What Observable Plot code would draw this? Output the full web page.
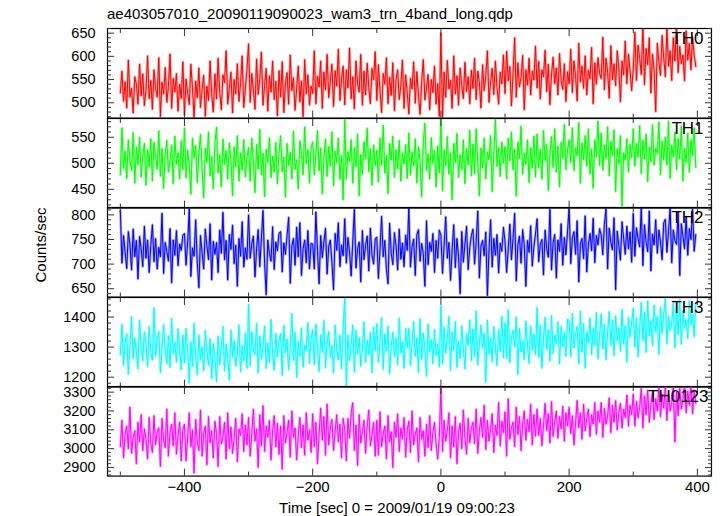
<!DOCTYPE html>
<html><head><meta charset="utf-8">
<script src="https://cdn.jsdelivr.net/npm/d3@7"></script>
<script src="https://cdn.jsdelivr.net/npm/@observablehq/plot@0.6"></script>
<style>
body{margin:0;background:#fff;}
#chart{position:relative;width:724px;height:516px;font-family:"Liberation Sans",Arial,sans-serif;color:#000;overflow:hidden;}
.panel{position:absolute;left:0;}
.panel svg{overflow:visible;}
#title{position:absolute;left:107px;top:5px;font-size:15px;white-space:nowrap;}
#ylab{position:absolute;left:40px;top:245px;transform:translate(-50%,-50%) rotate(-90deg);font-size:15px;white-space:nowrap;}
#xlab{position:absolute;left:397px;top:507px;transform:translate(-50%,-50%);font-size:15px;white-space:nowrap;}
</style></head>
<body>
<div id="chart">
  <div id="title">ae403057010_20090119090023_wam3_trn_4band_long.qdp</div>
  <div id="ylab">Counts/sec</div>
  <div id="xlab">Time [sec] 0 = 2009/01/19 09:00:23</div>
</div>
<script>
// time bins: first bin start and bin width (sec)
const tStart = -500;
const tStep = 2.5;
const xTicksLabelled = [-400, -200, 0, 200, 400];
const xTicksMinor = [-500, -300, -100, 100, 300];

const bands = ["TH0", "TH1", "TH2", "TH3", "TH0123"];
const colors = ["#ff0000", "#00ff00", "#0000ff", "#00ffff", "#ff00ff"];

const th0 = [
521,568,503,545,489,592,512,531,478,556,540,497,583,515,562,494,527,601,509,548,
486,571,530,512,597,470,544,519,576,501,535,605,488,552,523,563,482,540,509,588,
474,551,520,496,583,532,468,547,511,575,490,528,559,471,536,505,590,517,480,562,
508,596,522,485,560,543,612,497,531,566,478,550,519,584,503,541,601,490,529,572,
627,501,563,528,486,594,518,552,609,495,537,574,482,558,523,590,507,546,472,569,
512,588,479,541,565,497,603,526,554,484,531,579,502,547,470,593,519,560,495,536,
520,612,498,557,534,590,488,566,528,604,511,547,583,492,569,536,615,505,552,579,
496,571,532,618,509,556,487,590,541,523,604,495,568,517,585,533,498,574,549,610,
505,582,527,479,563,540,597,498,555,516,586,483,549,571,507,536,592,488,560,521,
476,553,530,588,499,567,514,475,546,593,506,532,561,485,550,522,579,497,541,471,
650,468,566,512,591,530,549,488,601,519,558,495,575,537,509,587,524,556,498,570,
531,596,507,568,543,489,582,526,559,612,501,545,574,518,590,533,497,566,541,603,
520,611,547,578,493,563,640,512,586,534,555,602,485,571,538,596,517,568,549,622,
532,589,508,571,556,613,524,583,496,560,598,541,575,517,606,548,529,584,503,567,
541,615,522,590,558,504,628,545,579,531,601,517,570,552,619,498,586,540,597,563,
552,641,528,596,566,510,623,549,584,537,612,575,502,590,560,633,541,605,571,526,
573,652,548,624,596,561,668,539,617,582,640,521,605,570,481,628,588,559,645,597,
556,662,579,612,548,640,590,672,565,621,584,603,547,655,592,628,571,641,603,578];

const th1 = [
478,568,490,523,471,545,505,486,559,462,531,497,550,474,515,538,458,526,493,547,
466,540,511,489,562,475,528,452,517,544,483,506,535,461,552,498,520,470,543,488,
568,472,525,496,441,548,510,534,463,519,555,487,434,529,502,560,476,513,451,538,
569,482,517,455,546,498,524,470,539,508,438,531,493,553,466,520,487,545,474,512,
530,466,548,501,444,536,489,565,478,519,436,527,502,549,473,514,483,540,461,522,
553,484,512,435,538,496,521,470,562,489,507,451,543,517,478,570,499,526,462,531,
541,478,518,563,486,529,441,510,546,475,532,494,560,457,523,501,548,469,515,430,
584,470,522,503,545,462,530,493,556,438,517,479,541,508,567,484,528,458,535,496,
525,464,548,497,573,481,515,442,538,506,552,473,526,489,544,466,519,499,535,471,
558,478,521,495,547,462,531,504,436,540,577,486,518,470,549,500,525,455,533,482,
584,447,526,495,551,479,520,430,538,502,557,473,516,488,545,461,529,497,563,476,
537,480,566,502,438,529,491,548,470,522,507,553,446,519,584,494,530,475,541,500,
532,470,548,505,560,488,527,437,541,509,571,479,520,498,545,463,530,491,552,474,
556,492,527,470,563,505,536,448,519,551,492,566,483,533,455,540,510,574,488,525,
545,501,568,486,530,514,578,462,539,507,553,495,566,480,527,452,545,512,581,496,
558,487,535,509,570,476,542,515,564,446,528,499,553,418,520,506,547,483,536,511,
566,495,538,512,572,480,544,508,556,465,531,503,574,497,529,519,579,478,542,506,
550,497,581,471,535,512,560,488,547,508,571,466,529,501,558,483,545,514,568,492];

const th2 = [
809,702,758,723,691,766,740,688,771,715,748,670,756,731,695,777,712,749,683,738,
780,705,752,690,734,715,803,681,744,726,706,772,662,749,718,768,697,741,728,759,
762,698,745,812,675,733,716,790,704,652,758,724,690,771,737,709,782,668,746,720,
744,683,769,722,805,709,748,668,760,730,779,701,738,655,752,716,786,694,733,710,
800,712,741,757,674,731,770,695,753,809,702,638,749,721,706,776,689,745,727,763,
766,684,743,720,758,795,661,737,752,698,775,715,784,677,731,749,703,768,690,742,
741,690,806,726,660,758,713,745,773,680,736,749,704,648,762,728,784,695,739,717,
792,702,754,725,676,745,811,692,731,745,664,768,709,738,757,686,773,719,700,751,
755,671,730,797,715,748,689,660,783,722,699,764,737,688,771,710,743,695,759,728,
813,694,735,751,677,760,770,706,742,721,655,788,699,744,726,762,683,748,712,769,
759,681,738,796,712,744,667,729,780,693,752,716,640,766,704,741,777,689,733,758,
771,700,745,808,672,737,748,717,765,636,729,790,694,752,718,760,682,743,726,775,
746,683,731,781,709,752,803,666,739,757,702,770,739,655,748,724,778,696,735,761,
792,705,740,750,678,769,731,714,811,688,744,760,672,749,726,782,698,754,719,767,
815,701,752,766,720,788,664,741,752,711,798,684,740,762,727,793,703,758,739,772,
759,719,781,812,690,773,744,729,794,648,767,738,708,786,752,720,777,731,765,704,
803,716,774,752,735,815,697,780,744,725,808,686,761,739,790,722,769,745,709,784,
791,724,766,814,703,769,747,740,806,677,782,757,731,796,718,772,750,812,726,760];

const th3 = [
1275,1375,1240,1318,1344,1210,1302,1402,1262,1330,1286,1228,1390,1297,1255,1351,1310,1236,1368,1283,
1256,1431,1270,1322,1352,1215,1298,1375,1290,1245,1338,1232,1396,1279,1316,1250,1361,1293,1225,1340,
1248,1362,1291,1181,1318,1236,1379,1270,1208,1340,1259,1301,1222,1355,1284,1240,1327,1196,1311,1263,
1185,1337,1242,1298,1368,1221,1309,1265,1190,1356,1266,1322,1237,1281,1374,1218,1305,1254,1346,1230,
1442,1238,1351,1290,1275,1379,1214,1338,1260,1302,1370,1229,1314,1248,1392,1276,1223,1345,1267,1320,
1345,1206,1372,1281,1326,1224,1298,1412,1255,1349,1200,1318,1270,1364,1233,1307,1288,1381,1246,1329,
1358,1242,1377,1296,1219,1341,1283,1388,1231,1317,1352,1266,1305,1214,1373,1290,1257,1339,1228,1361,
1465,1170,1340,1255,1308,1373,1217,1356,1277,1331,1236,1294,1384,1250,1322,1276,1349,1215,1367,1289,
1378,1251,1320,1398,1226,1344,1287,1369,1212,1304,1350,1268,1331,1242,1396,1281,1318,1230,1362,1299,
1362,1238,1311,1385,1270,1331,1216,1394,1259,1347,1296,1203,1376,1284,1325,1245,1358,1272,1310,1234,
1437,1245,1366,1281,1329,1402,1222,1350,1290,1385,1233,1318,1262,1371,1296,1227,1345,1308,1390,1256,
1359,1268,1420,1241,1312,1373,1296,1346,1183,1390,1277,1330,1252,1368,1300,1239,1357,1285,1402,1264,
1381,1262,1424,1248,1335,1356,1301,1400,1209,1362,1284,1322,1258,1387,1305,1246,1370,1291,1343,1275,
1431,1266,1374,1230,1329,1399,1292,1357,1253,1405,1279,1340,1311,1384,1244,1368,1302,1349,1270,1393,
1388,1268,1412,1297,1345,1369,1244,1420,1283,1378,1230,1351,1314,1396,1275,1362,1306,1415,1261,1338,
1410,1295,1376,1258,1348,1418,1306,1389,1272,1404,1320,1363,1286,1425,1310,1371,1251,1398,1333,1380,
1430,1300,1395,1268,1362,1448,1322,1415,1283,1454,1337,1388,1305,1440,1351,1402,1276,1432,1346,1411,
1461,1312,1402,1355,1378,1446,1298,1431,1342,1458,1310,1420,1365,1392,1329,1452,1374,1408,1335,1444];

const th0123 = [
3010,3150,2950,3080,3120,3000,3220,2975,3060,3095,2920,3140,3035,3180,2990,3105,3050,2945,3165,3025,
2980,3175,3020,3090,3110,2905,3160,3045,3005,3210,2960,3085,3130,3015,3190,2970,3070,3140,2935,3100,
3130,2935,3065,3190,3010,3100,2870,3155,3040,2990,3205,2960,3085,3120,2915,3170,3030,3095,2950,3145,
3080,2905,3170,3025,3060,3140,2945,3190,3000,3115,2975,3055,3160,2930,3105,3070,3185,2985,3125,3020,
3165,2960,3080,3210,3040,3105,2900,3180,3015,3228,2985,3120,3060,3150,2940,3095,3175,3010,3135,2970,
3120,2890,3175,3030,3085,3150,2955,3200,3060,3110,2940,3070,3165,3005,3125,2965,3190,3045,3100,2980,
3185,3010,3140,2920,3075,3215,3045,3170,2965,3237,3020,3110,3155,2990,3090,3180,3035,3130,2950,3160,
3100,2935,3160,3055,3190,3244,2990,3125,2910,3180,3030,3090,3150,2975,3120,3205,3015,3070,3140,2960,
3150,2965,3195,3010,3080,3120,2945,3175,3035,3090,2900,3140,3060,3185,2985,3110,3050,3165,2955,3100,
3145,2980,3200,3020,3075,3110,2930,3165,3050,3095,2960,3130,3005,3175,2990,3085,3140,3025,2945,3060,
3326,2985,3150,3040,3095,3190,2950,3120,3010,3170,2920,3085,3135,3000,3205,3055,2970,3160,3030,3110,
3140,3025,3210,2975,3095,3165,3060,3230,2995,3150,3040,3105,3185,2980,3125,3070,3245,3015,3145,3085,
3195,2960,3265,3050,3110,3140,3010,3220,3075,3170,2990,3130,3200,3045,3155,3090,3235,3020,3180,3065,
3210,3070,3160,3015,3125,3240,3095,3185,3030,3250,3065,3145,3200,3055,3170,3105,3225,3040,3190,3120,
3220,3080,3175,3020,3135,3256,3110,3190,3050,3235,3095,3160,3210,3065,3180,3130,3245,3075,3200,3140,
3245,3060,3215,3130,3175,3270,3085,3230,3140,3255,3100,3195,3240,3110,3210,3165,3285,3120,3230,3180,
3290,3120,3250,3165,3220,3320,3110,3280,3180,3310,3140,3235,3300,3155,3265,3200,3335,3170,3290,3215,
3330,3150,3290,3200,3245,3340,3035,3300,3175,3320,3210,3265,3345,3190,3305,3230,3350,3185,3310,3240];

const series = [th0, th1, th2, th3, th0123];
const yDomains = [[467, 660], [414, 586], [633, 815], [1167, 1465], [2854, 3330]];
const yMajors = [[500, 550, 600, 650], [450, 500, 550], [650, 700, 750, 800], [1200, 1300, 1400], [2900, 3000, 3100, 3200, 3300]];
const yMinorSteps = [10, 10, 10, 20, 20];

const xDomain = [-520, 422];
const panelTop0 = 28;
const panelH = 89.6;

const chart = document.getElementById("chart");
const intFmt = d3.format("d");
series.forEach((vals, p) => {
  const isBottom = p === series.length - 1;
  const data = vals.map((v, i) => ({t: tStart + i * tStep, v}));
  const [y0, y1] = yDomains[p];
  const step = yMinorSteps[p];
  const minors = d3.range(Math.ceil(y0 / step) * step, y1 + 1e-9, step).filter(v => !yMajors[p].includes(v));
  const blank = () => "";
  const marks = [
    // pale halo under the curve (like the pale error bars of the original)
    Plot.line(data, {x: "t", y: "v", stroke: colors[p], strokeWidth: 2.6, strokeOpacity: 0.35, clip: true}),
    Plot.line(data, {x: "t", y: "v", stroke: colors[p], strokeWidth: 1, clip: true}),
    Plot.frame({stroke: "#000", strokeWidth: 1.2}),
    // y labels
    Plot.axisY(yMajors[p], {anchor: "left", tickSize: 0, tickPadding: 12, fontSize: 14.5, tickFormat: intFmt, label: null}),
    // y ticks, inward on both sides
    Plot.axisY(yMajors[p], {anchor: "left", tickSize: -7, tickFormat: blank, label: null, stroke: "#333"}),
    Plot.axisY(minors, {anchor: "left", tickSize: -4, tickFormat: blank, label: null, stroke: "#333"}),
    Plot.axisY(yMajors[p], {anchor: "right", tickSize: -7, tickFormat: blank, label: null, stroke: "#333"}),
    Plot.axisY(minors, {anchor: "right", tickSize: -4, tickFormat: blank, label: null, stroke: "#333"}),
    // x ticks, inward on top and bottom
    Plot.axisX(xTicksLabelled, {anchor: "top", tickSize: -7, tickFormat: blank, label: null, stroke: "#333"}),
    Plot.axisX(xTicksMinor, {anchor: "top", tickSize: -4, tickFormat: blank, label: null, stroke: "#333"}),
    Plot.axisX(xTicksLabelled, {anchor: "bottom", tickSize: -7, tickFormat: blank, label: null, stroke: "#333"}),
    Plot.axisX(xTicksMinor, {anchor: "bottom", tickSize: -4, tickFormat: blank, label: null, stroke: "#333"}),
    Plot.text([bands[p]], {frameAnchor: "top-right", dx: p === 4 ? -3 : -8, dy: 3, lineAnchor: "top", textAnchor: "end", fontSize: 17, fill: "#000"})
  ];
  if (isBottom) {
    marks.push(Plot.axisX(xTicksLabelled, {anchor: "bottom", tickSize: 0, tickPadding: 5, fontSize: 15, label: null}));
  }
  const svg = Plot.plot({
    width: 724,
    height: panelH + (isBottom ? 30 : 0),
    marginLeft: 107, marginRight: 13, marginTop: 0, marginBottom: isBottom ? 30 : 0,
    x: {domain: xDomain},
    y: {domain: yDomains[p]},
    style: {fontFamily: "'Liberation Sans', Arial, sans-serif", background: "transparent", color: "#000", overflow: "visible"},
    marks
  });
  const div = document.createElement("div");
  div.className = "panel";
  div.style.top = (panelTop0 + p * panelH) + "px";
  div.appendChild(svg);
  chart.appendChild(div);
});
</script>
</body></html>
